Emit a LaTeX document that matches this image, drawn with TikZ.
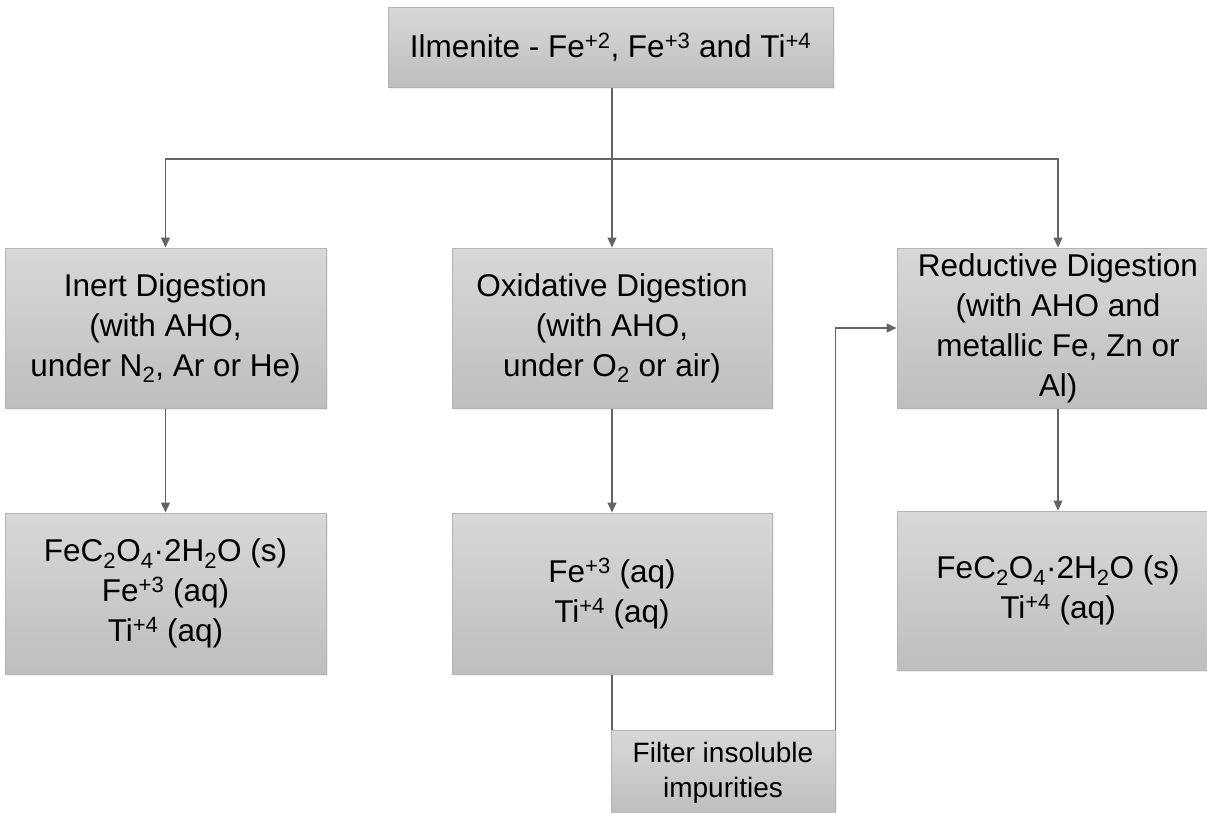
\documentclass[tikz,border=0pt]{standalone}
\usepackage{fontspec}
\setmainfont{Liberation Sans}
\usetikzlibrary{arrows.meta,shadows}
\definecolor{boxtop}{HTML}{D8D8D8}
\definecolor{boxbot}{HTML}{BEBEBE}
\definecolor{boxline}{HTML}{B4B4B4}
\definecolor{conn}{HTML}{646464}
\tikzset{
  flowbox/.style={draw=boxline, line width=1pt, top color=boxtop, bottom color=boxbot,
    inner sep=0pt, align=center, anchor=center,
    drop shadow={opacity=0.12, shadow xshift=1.5pt, shadow yshift=-1.5pt},
    font=\fontsize{31.5}{40}\selectfont},
  conline/.style={draw=conn, line width=1.2pt},
  arr/.style={conline, -{Triangle[length=10pt,width=9pt]}}
}
\newcommand{\sps}[1]{\textsuperscript{#1}}
\newcommand{\sbs}[1]{\textsubscript{#1}}
\begin{document}
\begin{tikzpicture}[x=1pt,y=1pt]
\useasboundingbox (0,0) rectangle (1207,-812);
\fill[white] (0,0) rectangle (1207,-812);

\node[flowbox, minimum width=445pt, minimum height=80pt, font=\fontsize{31.5}{40}\selectfont]
  (top) at (610.5,-47) {Ilmenite - Fe\sps{+2}, Fe\sps{+3} and Ti\sps{+4}};

\node[flowbox, minimum width=321pt, minimum height=160pt] (inert) at (165.5,-328)
  {Inert Digestion\\(with AHO,\\under N\sbs{2}, Ar or He)};
\node[flowbox, minimum width=320pt, minimum height=160pt] (oxid) at (612,-328)
  {Oxidative Digestion\\(with AHO,\\under O\sbs{2} or air)};
\node[flowbox, minimum width=322pt, minimum height=160pt] (red) at (1058,-328)
  {Reductive Digestion\\(with AHO and\\metallic Fe, Zn or\\Al)};

\node[flowbox, minimum width=321pt, minimum height=161pt] (inertres) at (165.5,-593.5)
  {FeC\sbs{2}O\sbs{4}·2H\sbs{2}O (s)\\Fe\sps{+3} (aq)\\Ti\sps{+4} (aq)};
\node[flowbox, minimum width=320pt, minimum height=161pt] (oxidres) at (612,-593.5)
  {Fe\sps{+3} (aq)\\Ti\sps{+4} (aq)};
\node[flowbox, minimum width=322pt, minimum height=159pt] (redres) at (1058,-590.5)
  {FeC\sbs{2}O\sbs{4}·2H\sbs{2}O (s)\\Ti\sps{+4} (aq)};

\node[flowbox, minimum width=224pt, minimum height=86pt, font=\fontsize{28}{35}\selectfont]
  (filter) at (723,-773) {Filter insoluble\\impurities};

\coordinate (split) at (612,-159);
\draw[conline] (top.south -| split) -- (split);
\draw[arr] (split) -| (inert.north);
\draw[arr] (split) -- (oxid.north);
\draw[arr] (split) -| (red.north);

\draw[arr] (inert.south) -- (inertres.north);
\draw[arr] (oxid.south) -- (oxidres.north);
\draw[arr] (red.south) -- (redres.north);

\draw[conline] (oxidres.south) -- (oxidres.south |- filter.north);
\draw[arr] (filter.north east) |- (red.west);
\end{tikzpicture}
\end{document}
